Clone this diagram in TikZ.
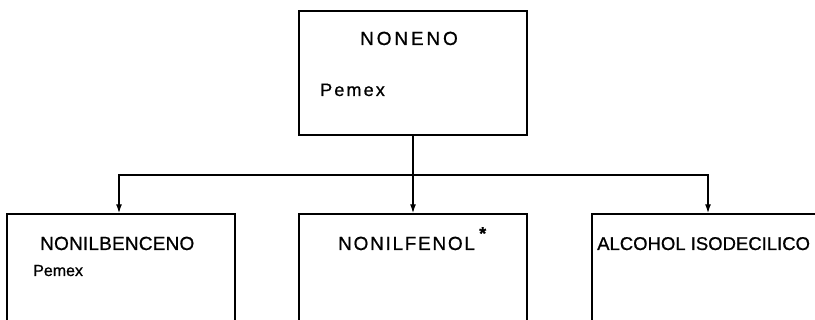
\documentclass[tikz,border=0pt]{standalone}
\usepackage{fontspec}
\setmainfont[FakeBold=0.8]{Liberation Sans}
\usetikzlibrary{arrows.meta}
\begin{document}
\begin{tikzpicture}[x=1pt,y=-1pt,
  boxst/.style={draw,line width=1.4pt,minimum width=228pt,inner sep=0pt},
  line/.style={line width=1.4pt},
  arr/.style={-{Latex[length=9pt,width=6pt]}},
  lbl/.style={anchor=base west,inner sep=0pt,font=\fontsize{19}{22}\selectfont}]
\useasboundingbox (0,0) rectangle (815,320);
\clip (0,0) rectangle (815,320);
\fill[white] (0,0) rectangle (815,320);
\node[boxst,minimum height=124pt] (top) at (413,73) {};
\node[boxst,minimum height=120pt] (b1) at (121,274) {};
\node[boxst,minimum height=120pt] (b2) at (413,274) {};
\node[boxst,minimum height=120pt] (b3) at (706,274) {};
\coordinate (bus) at (413,175);
\draw[line] (top.south) -- (bus);
\draw[line,arr] (bus) -| ([xshift=-2pt]b1.north);
\draw[line,arr] (bus) -- (b2.north);
\draw[line,arr] (bus) -| ([xshift=2pt]b3.north);
\node[lbl] (t1) at (360,45) {\addfontfeature{LetterSpace=15}NONENO};
\node[lbl,font=\fontsize{18}{20}\selectfont] (p1) at (320,96) {\addfontfeature{LetterSpace=12}Pemex};
\node[lbl] (t2) at (40,250) {\addfontfeature{LetterSpace=1}NONILBENCENO};
\node[lbl,font=\fontsize{16}{18}\selectfont] (p2) at (33,276) {Pemex};
\node[lbl] (t3) at (338,250) {\addfontfeature{LetterSpace=9}NONILFENOL};
\node[anchor=north west,inner sep=0pt,font=\fontsize{18}{20}\bfseries] (ast) at (479,227) {*};
\node[lbl,font=\fontsize{18.5}{22}\selectfont] (t4) at (597,250) {ALCOHOL ISODECILICO};
\end{tikzpicture}
\end{document}
